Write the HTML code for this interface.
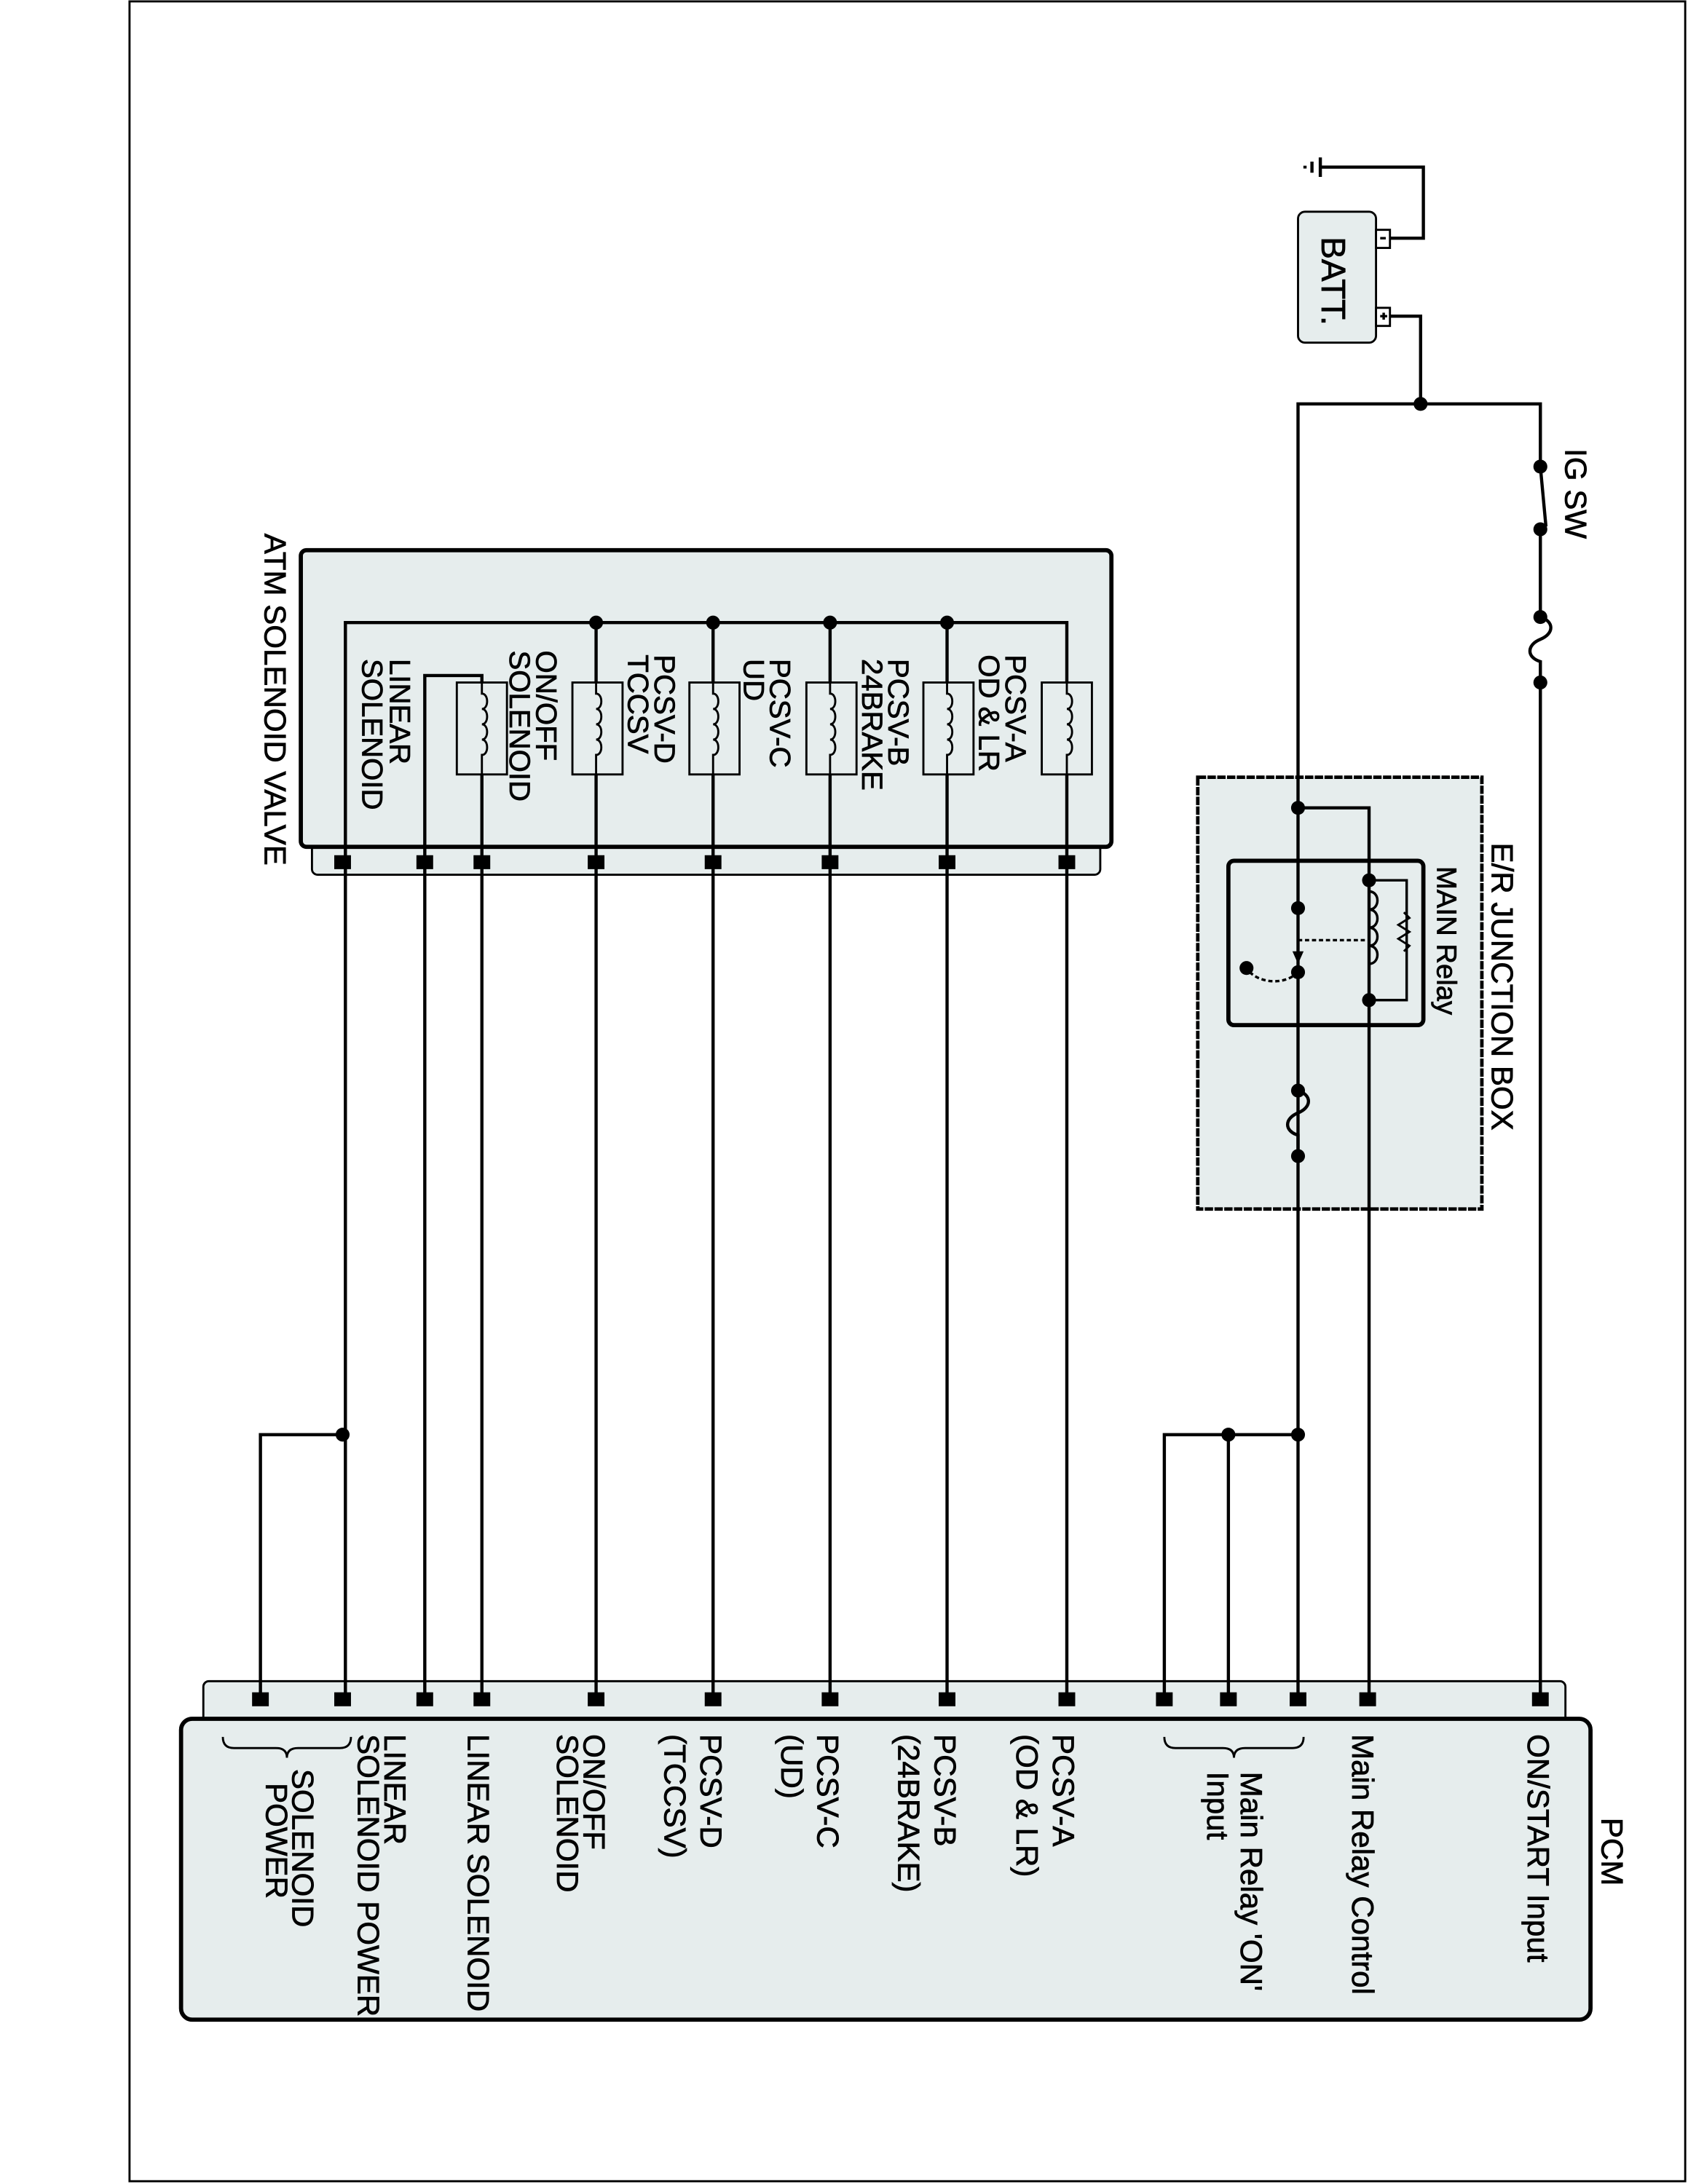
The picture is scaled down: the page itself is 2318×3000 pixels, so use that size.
<!DOCTYPE html>
<html><head><meta charset="utf-8"><style>html,body{margin:0;padding:0;background:#fff}svg{display:block}</style></head>
<body>
<svg width="2318" height="3000" viewBox="0 0 1212 1568" preserveAspectRatio="none" xmlns="http://www.w3.org/2000/svg" font-family="Liberation Sans, sans-serif">
<g fill="none" stroke="#000" stroke-width="2">
<rect x="93" y="1" width="1117" height="1565" stroke-width="1.5"/>
</g>
<rect x="860" y="558" width="204" height="310" fill="#e6eded" stroke="#000" stroke-width="2.5" stroke-dasharray="6,1"/>
<rect x="882" y="618" width="140" height="118" rx="4" fill="none" stroke="#000" stroke-width="3"/>
<rect x="224" y="600" width="566" height="28" rx="4" fill="#e6eded" stroke="#000" stroke-width="1.5"/>
<rect x="216" y="395" width="582" height="213" rx="4" fill="#e6eded" stroke="#000" stroke-width="3"/>
<rect x="146" y="1207" width="978" height="36" rx="4" fill="#e6eded" stroke="#000" stroke-width="1.5"/>
<rect x="130" y="1234" width="1012" height="216" rx="8" fill="#e6eded" stroke="#000" stroke-width="3"/>
<rect x="932" y="152" width="56" height="94" rx="5" fill="#e6eded" stroke="#000" stroke-width="1.5"/>
<rect x="988" y="165" width="10" height="13" fill="#fff" stroke="#000" stroke-width="1.5"/>
<rect x="988" y="221" width="10" height="13" fill="#fff" stroke="#000" stroke-width="1.5"/>
<g fill="none" stroke="#000" stroke-width="2.3">
<path d="M998 171H1022V120H948"/>
<path d="M948 113V127M942 116V124M937 119V121"/>
<path d="M991 171h4M991 227h5M993.5 224.5v5" stroke-width="1.8"/>
<path d="M998 227H1020V290"/>
<path d="M932 1220V290H1106V335"/>
<path d="M1106 335L1110 378"/>
<path d="M1106 380V443"/>
<path d="M1106 443c10 3 10 12 0 16c-10 4 -10 13 0 16V490"/>
<path d="M1106 490V1220"/>
<path d="M932 580H983V718V1220"/>
<path d="M983 632H1010V718H983" stroke-width="1.8"/>
<path d="M983 640c8 0 8 13 0 13c8 0 8 13 0 13c8 0 8 13 0 13c8 0 8 13 0 13" stroke-width="1.8"/>
<path d="M1008 655l4 4l-8 5l8 5l-8 5l8 5l-4 4" stroke-width="1.5"/>
<path d="M932 675H983" stroke-dasharray="3,2" stroke-width="1.8"/>
<path d="M932 698c-10 10 -30 8 -37 -3" stroke-dasharray="3,2" stroke-width="1.8"/>
<path d="M932 783c10 3 10 12 0 16c-10 4 -10 13 0 16V830"/>
<path d="M932 1030H836V1220M882 1030V1220"/>
<path d="M246 1030H187V1220"/>
<path d="M248 1220V447H766V619"/>
<path d="M305 1220V485H346V619V1220"/>
<path d="M428 447V1220M512 447V1220M596 447V1220M680 447V1220M766 619V1220"/>
</g>
<g fill="#e6eded" stroke="#000" stroke-width="1.5">
<rect x="328" y="490" width="36" height="66"/>
<rect x="411" y="490" width="36" height="66"/>
<rect x="495" y="490" width="36" height="66"/>
<rect x="579" y="490" width="36" height="66"/>
<rect x="663" y="490" width="36" height="66"/>
<rect x="748" y="490" width="36" height="66"/>
</g>
<g fill="none" stroke="#000" stroke-width="1.5">
<path id="c" d="M346 490V498c5 0 5 11 0 11c5 0 5 11 0 11c5 0 5 11 0 11c5 0 5 11 0 11V556"/>
<use href="#c" x="82"/><use href="#c" x="166"/><use href="#c" x="250"/><use href="#c" x="334"/><use href="#c" x="420"/>
</g>
<g fill="#000">
<circle cx="1020" cy="290" r="5"/>
<circle cx="1106" cy="335" r="5"/><circle cx="1106" cy="380" r="5"/>
<circle cx="1106" cy="443" r="5"/><circle cx="1106" cy="490" r="5"/>
<circle cx="932" cy="580" r="5"/><circle cx="932" cy="652" r="5"/><circle cx="932" cy="698" r="5"/>
<circle cx="895" cy="695" r="5"/>
<circle cx="983" cy="632" r="5"/><circle cx="983" cy="718" r="5"/>
<circle cx="932" cy="783" r="5"/><circle cx="932" cy="830" r="5"/>
<path d="M928 683h8l-4 9z"/>
<circle cx="932" cy="1030" r="5"/><circle cx="882" cy="1030" r="5"/><circle cx="246" cy="1030" r="5"/>
<circle cx="428" cy="447" r="5"/><circle cx="512" cy="447" r="5"/><circle cx="596" cy="447" r="5"/><circle cx="680" cy="447" r="5"/>
<rect x="240" y="614" width="12" height="10"/><rect x="299" y="614" width="12" height="10"/><rect x="340" y="614" width="12" height="10"/>
<rect x="422" y="614" width="12" height="10"/><rect x="506" y="614" width="12" height="10"/><rect x="590" y="614" width="12" height="10"/>
<rect x="674" y="614" width="12" height="10"/><rect x="760" y="614" width="12" height="10"/>
<rect x="1100" y="1215" width="12" height="10"/><rect x="976" y="1215" width="12" height="10"/><rect x="926" y="1215" width="12" height="10"/>
<rect x="876" y="1215" width="12" height="10"/><rect x="830" y="1215" width="12" height="10"/><rect x="760" y="1215" width="12" height="10"/>
<rect x="674" y="1215" width="12" height="10"/><rect x="590" y="1215" width="12" height="10"/><rect x="506" y="1215" width="12" height="10"/>
<rect x="422" y="1215" width="12" height="10"/><rect x="340" y="1215" width="12" height="10"/><rect x="299" y="1215" width="12" height="10"/>
<rect x="240" y="1215" width="12" height="10"/><rect x="181" y="1215" width="12" height="10"/>
</g>
<g fill="none" stroke="#000" stroke-width="1.5">
<path d="M836 1247q0 8 8 8H878q8 0 8 7q0 -7 8 -7H928q8 0 8 -8"/>
<path d="M160 1247q0 8 8 8H198q8 0 8 7q0 -7 8 -7H244q8 0 8 -8"/>
</g>
<g font-size="22" fill="#000" stroke="#000" stroke-width="0.4">
<text transform="translate(1150,1305) rotate(90)">PCM</text>
<text transform="translate(1124,322) rotate(90)">IG SW</text>
<text transform="translate(1071,605) rotate(90)">E/R JUNCTION BOX</text>
<text transform="translate(1032,622) rotate(90)" font-size="20">MAIN Relay</text>
<text transform="translate(190,383) rotate(90)">ATM SOLENOID VALVE</text>
<text transform="translate(949,170) rotate(90)" font-size="24">BATT.</text>
<text transform="translate(1097,1245) rotate(90)">ON/START Input</text>
<text transform="translate(971,1245) rotate(90)">Main Relay Control</text>
<text transform="translate(891,1272) rotate(90)">Main Relay 'ON'<tspan x="0" dy="24">Input</tspan></text>
<text transform="translate(756,1245) rotate(90)">PCSV-A<tspan x="0" dy="26">(OD &amp; LR)</tspan></text>
<text transform="translate(671,1245) rotate(90)">PCSV-B<tspan x="0" dy="26">(24BRAKE)</tspan></text>
<text transform="translate(587,1245) rotate(90)">PCSV-C<tspan x="0" dy="26">(UD)</tspan></text>
<text transform="translate(503,1245) rotate(90)">PCSV-D<tspan x="0" dy="26">(TCCSV)</tspan></text>
<text transform="translate(419,1245) rotate(90)">ON/OFF<tspan x="0" dy="19">SOLENOID</tspan></text>
<text transform="translate(336,1245) rotate(90)">LINEAR SOLENOID</text>
<text transform="translate(276,1245) rotate(90)">LINEAR<tspan x="0" dy="19">SOLENOID POWER</tspan></text>
<text transform="translate(210,1270) rotate(90)">SOLENOID<tspan x="10" dy="19">POWER</tspan></text>
</g>
<g font-size="21" fill="#000" stroke="#000" stroke-width="0.4">
<text transform="translate(722,470) rotate(90)">PCSV-A<tspan x="0" dy="19">OD &amp; LR</tspan></text>
<text transform="translate(638,473) rotate(90)">PCSV-B<tspan x="0" dy="19">24BRAKE</tspan></text>
<text transform="translate(553,473) rotate(90)">PCSV-C<tspan x="0" dy="19">UD</tspan></text>
<text transform="translate(470,470) rotate(90)">PCSV-D<tspan x="0" dy="19">TCCSV</tspan></text>
<text transform="translate(385,467) rotate(90)">ON/OFF<tspan x="0" dy="19">SOLENOID</tspan></text>
<text transform="translate(280,473) rotate(90)">LINEAR<tspan x="0" dy="20">SOLENOID</tspan></text>
</g>
</svg>
</body></html>
